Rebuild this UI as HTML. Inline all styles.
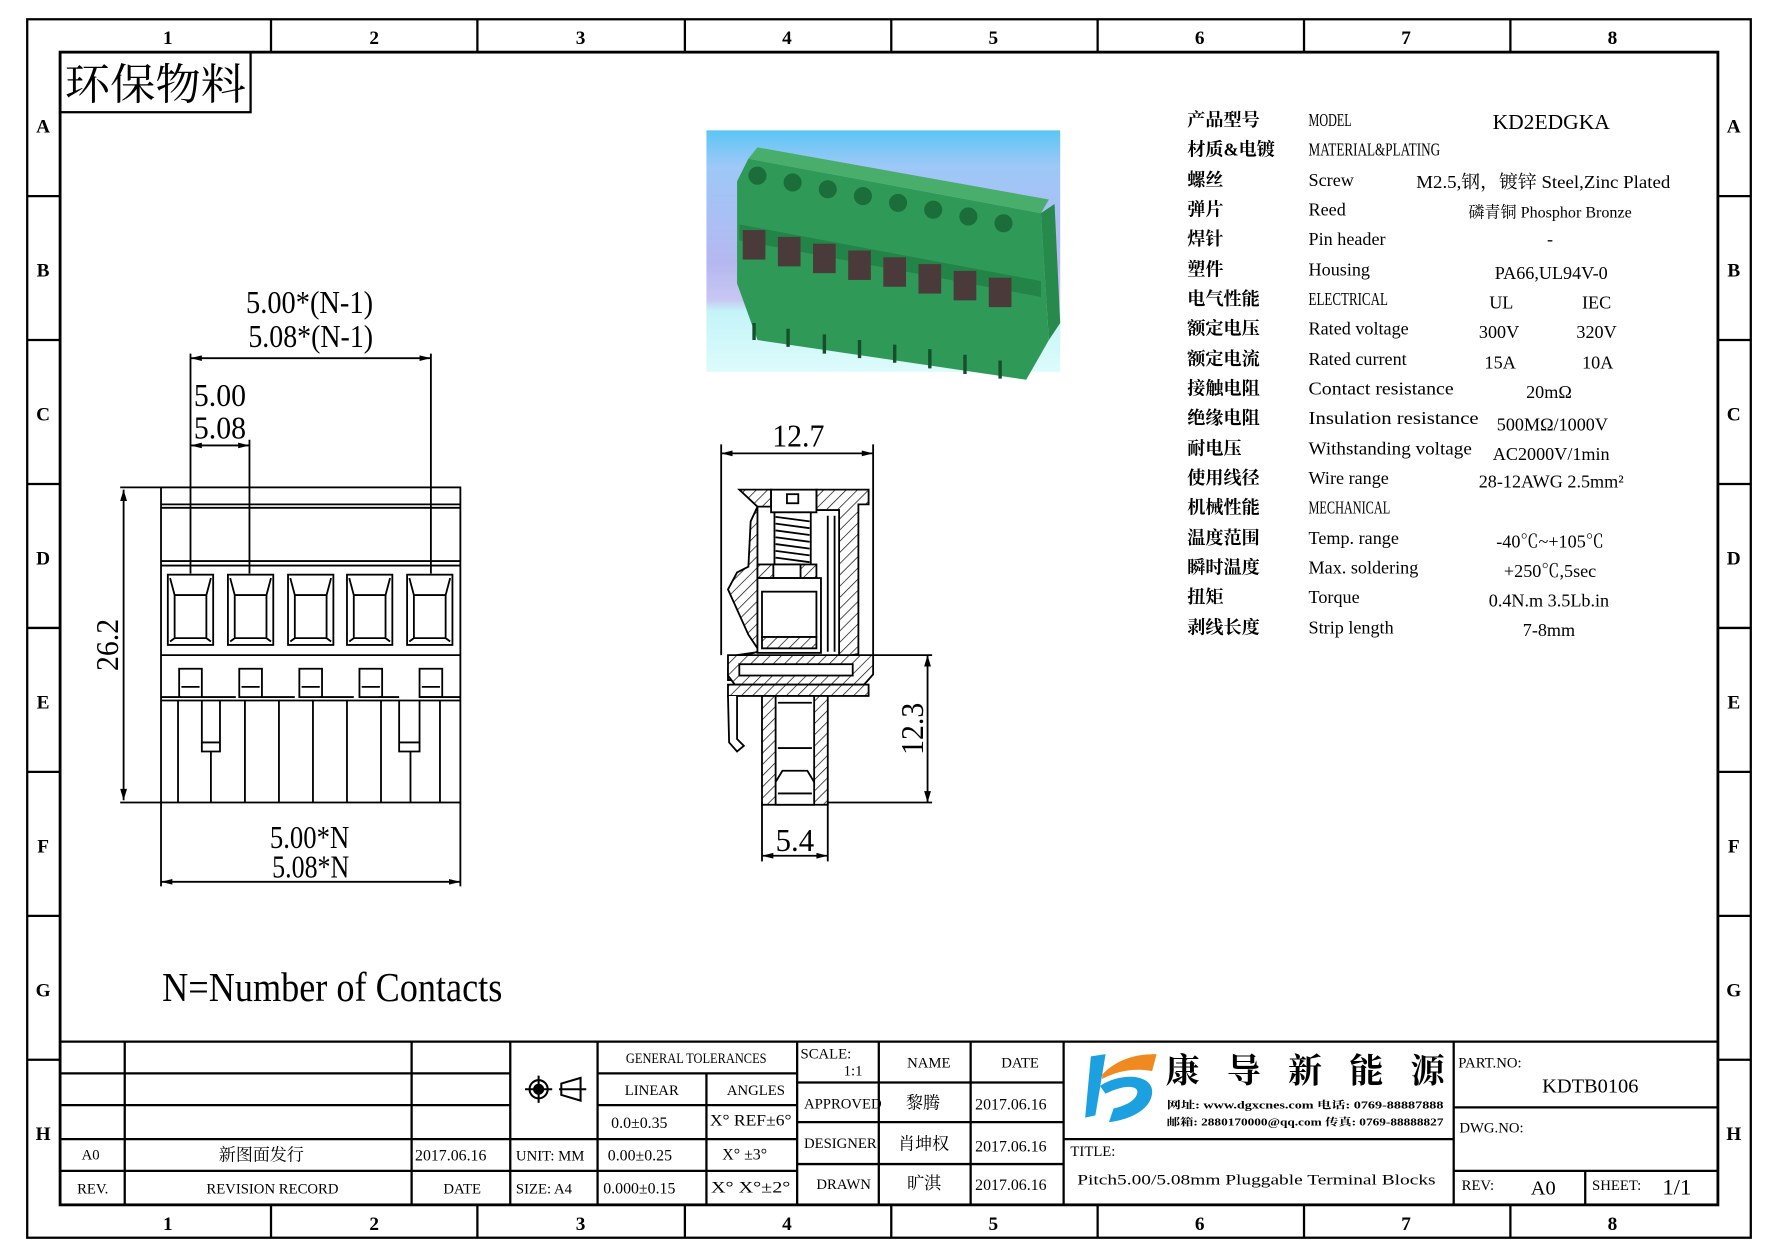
<!DOCTYPE html>
<html><head><meta charset="utf-8"><style>
html,body{margin:0;padding:0;background:#fff;}
svg{display:block;}
text{font-family:"Liberation Serif","Noto Serif CJK SC","Noto Sans CJK SC",serif;fill:#000;}
.s{font-family:"Liberation Sans","Noto Sans CJK SC",sans-serif;font-weight:bold;}
</style></head><body>
<svg width="1778" height="1257" viewBox="0 0 1568 1109" preserveAspectRatio="none" xmlns="http://www.w3.org/2000/svg">
<defs>
<pattern id="h" width="7" height="7" patternUnits="userSpaceOnUse" patternTransform="rotate(45)">
<rect width="7" height="7" fill="#fff"/><line x1="0" y1="0" x2="0" y2="7" stroke="#000" stroke-width="1.2"/></pattern>
<linearGradient id="bg" x1="0" y1="0" x2="0" y2="1">
<stop offset="0" stop-color="#5cc6f4"/><stop offset="0.15" stop-color="#9dc8f7"/><stop offset="0.55" stop-color="#b5b8f0"/><stop offset="0.7" stop-color="#c8c6f2"/><stop offset="0.75" stop-color="#c4f4f8"/><stop offset="1" stop-color="#ddfbfb"/></linearGradient>
</defs>
<rect width="1568" height="1109" fill="#fff"/>
<g fill="none" stroke="#000">
<rect x="24" y="17" width="1520" height="1075" stroke-width="2"/>
<rect x="53" y="46" width="1462" height="1017" stroke-width="2.5"/>
<path d="M239 17V46M421 17V46M604 17V46M786 17V46M968 17V46M1150 17V46M1332 17V46 M239 1063V1092M421 1063V1092M604 1063V1092M786 1063V1092M968 1063V1092M1150 1063V1092M1332 1063V1092" stroke-width="2"/>
<path d="M24 173H53M24 300H53M24 427H53M24 554H53M24 681H53M24 808H53M24 935H53 M1515 173H1544M1515 300H1544M1515 427H1544M1515 554H1544M1515 681H1544M1515 808H1544M1515 935H1544" stroke-width="2"/>
</g>
<g class="s" font-size="17" text-anchor="middle">
<text x="148" y="39">1</text><text x="330" y="39">2</text><text x="512" y="39">3</text><text x="694" y="39">4</text><text x="876" y="39">5</text><text x="1058" y="39">6</text><text x="1240" y="39">7</text><text x="1422" y="39">8</text>
<text x="148" y="1085">1</text><text x="330" y="1085">2</text><text x="512" y="1085">3</text><text x="694" y="1085">4</text><text x="876" y="1085">5</text><text x="1058" y="1085">6</text><text x="1240" y="1085">7</text><text x="1422" y="1085">8</text>
<text x="38" y="117">A</text><text x="38" y="244">B</text><text x="38" y="371">C</text><text x="38" y="498">D</text><text x="38" y="625">E</text><text x="38" y="752">F</text><text x="38" y="879">G</text><text x="38" y="1006">H</text>
<text x="1529" y="117">A</text><text x="1529" y="244">B</text><text x="1529" y="371">C</text><text x="1529" y="498">D</text><text x="1529" y="625">E</text><text x="1529" y="752">F</text><text x="1529" y="879">G</text><text x="1529" y="1006">H</text>
</g>
<rect x="53" y="46" width="168" height="53" fill="none" stroke="#000" stroke-width="2"/>
<text x="57" y="88" font-size="38" textLength="160" lengthAdjust="spacingAndGlyphs">环保物料</text>

<!-- photo -->
<rect x="623" y="115" width="312" height="213" fill="url(#bg)"/>
<g>
<polygon points="660,140 918,188 925,300 905,335 668,300 650,250 650,160" fill="#2f9a57"/>
<polygon points="660,140 668,130 925,176 918,188" fill="#49ad6c"/>
<polygon points="652,198 918,248 918,262 652,212" fill="#238447"/>
<polygon points="918,188 930,180 935,285 925,300" fill="#27894b"/>
<g fill="#4a3b3a">
<rect x="655" y="203" width="20" height="26"/><rect x="686" y="209" width="20" height="26"/><rect x="717" y="215" width="20" height="26"/><rect x="748" y="221" width="20" height="26"/><rect x="779" y="227" width="20" height="26"/><rect x="810" y="233" width="20" height="26"/><rect x="841" y="239" width="20" height="26"/><rect x="872" y="245" width="20" height="26"/>
</g>
<g fill="#1b6e3a">
<circle cx="668" cy="155" r="8"/><circle cx="699" cy="161" r="8"/><circle cx="730" cy="167" r="8"/><circle cx="761" cy="173" r="8"/><circle cx="792" cy="179" r="8"/><circle cx="823" cy="185" r="8"/><circle cx="854" cy="191" r="8"/><circle cx="885" cy="197" r="8"/>
</g>
<g stroke="#174f2c" stroke-width="3"><path d="M665 285V300M695 290V306M727 295V312M758 300V316M789 304V320M820 308V325M851 313V330M882 318V334"/></g>
</g>

<!-- left front view -->
<g fill="none" stroke="#000" stroke-width="1.6">
<rect x="142" y="430" width="264" height="278"/>
<path d="M142 445H406M142 448H406M142 495H406M142 499H406M142 578H406M142 615H160M178 615H208M230 615H260M282 615H312M334 615H352M370 615H406M142 618H406"/>
<rect x="148" y="507" width="40" height="62"/><rect x="201" y="507" width="40" height="62"/><rect x="254" y="507" width="40" height="62"/><rect x="306" y="507" width="40" height="62"/><rect x="359" y="507" width="40" height="62"/>
<path d="M150 510L154 525H182L186 510M154 525V563H182V525M150 566L154 563M186 566L182 563"/>
<path d="M203 510L207 525H235L239 510M207 525V563H235V525M203 566L207 563M239 566L235 563"/>
<path d="M256 510L260 525H288L292 510M260 525V563H288V525M256 566L260 563M292 566L288 563"/>
<path d="M308 510L312 525H340L344 510M312 525V563H340V525M308 566L312 563M344 566L340 563"/>
<path d="M361 510L365 525H393L397 510M365 525V563H393V525M361 566L365 563M397 566L393 563"/>
<rect x="158" y="590" width="20" height="25"/><rect x="211" y="590" width="20" height="25"/><rect x="264" y="590" width="20" height="25"/><rect x="317" y="590" width="20" height="25"/><rect x="370" y="590" width="20" height="25"/>
<path d="M160 606H176M213 606H229M266 606H282M319 606H335M372 606H388"/>
<path d="M178 618V663H194V618M178 655H194M352 618V663H370V618M352 655H370"/>
<path d="M157 618V708M186 663V708M216 618V708M246 618V708M276 618V708M306 618V708M336 618V708M362 663V708M388 618V708"/>
<path d="M106 430H142M106 708H142M109 432V706"/>
<path d="M168 312V506M380 312V506M168 316H380M220 388V506M168 393H220"/>
<path d="M142 708V782M406 708V782M142 778H406"/>
</g>
<g fill="#000">
<path d="M109 432l-3 10h6zM109 706l-3 -10h6z"/>
<path d="M168 316l10 -2.5v5zM380 316l-10 -2.5v5zM168 393l10 -2.5v5zM220 393l-10 -2.5v5zM142 778l10 -2.5v5zM406 778l-10 -2.5v5z"/>
</g>
<g font-size="28">
<text x="217" y="276" textLength="112" lengthAdjust="spacingAndGlyphs">5.00*(N-1)</text>
<text x="219" y="306" textLength="110" lengthAdjust="spacingAndGlyphs">5.08*(N-1)</text>
<text x="171" y="358" textLength="46" lengthAdjust="spacingAndGlyphs">5.00</text>
<text x="171" y="387" textLength="46" lengthAdjust="spacingAndGlyphs">5.08</text>
<text x="238" y="748" textLength="70" lengthAdjust="spacingAndGlyphs">5.00*N</text>
<text x="240" y="774" textLength="68" lengthAdjust="spacingAndGlyphs">5.08*N</text>
<text transform="translate(104,592) rotate(-90)" textLength="46" lengthAdjust="spacingAndGlyphs">26.2</text>
<text x="143" y="883" font-size="36" textLength="300" lengthAdjust="spacingAndGlyphs">N=Number of Contacts</text>
</g>

<!-- side section view -->
<g stroke="#000" stroke-width="1.6">
<path d="M652 432H680V447H668L662 460 660 500 650 505 642 520 660 560 670 575 650 578 642 590V600H652V580L668 575V447Z" fill="url(#h)"/>
<path d="M720 432H766V445H757V577L740 580V450H720Z" fill="url(#h)"/>
<rect x="680" y="432" width="40" height="20" fill="#fff"/>
<rect x="694" y="436" width="10" height="8" fill="#fff"/>
<rect x="683" y="452" width="32" height="56" fill="#fff"/>
<path d="M684 456L714 460M684 462L714 466M684 468L714 472M684 474L714 478M684 480L714 484M684 486L714 490M684 492L714 496M684 498L714 502" fill="none"/>
<rect x="668" y="498" width="52" height="12" fill="url(#h)"/>
<rect x="682" y="498" width="24" height="12" fill="#fff"/>
<rect x="668" y="510" width="56" height="66" fill="#fff"/>
<rect x="672" y="522" width="48" height="40" fill="#fff"/>
<rect x="672" y="562" width="48" height="10" fill="url(#h)"/>
<path d="M730 455V575M736 455V575" fill="none"/>
<path d="M642 578H770V595L762 604H648L642 596Z" fill="url(#h)"/>
<rect x="652" y="586" width="100" height="10" fill="#fff"/>
<rect x="642" y="604" width="124" height="10" fill="url(#h)"/>
<rect x="672" y="614" width="58" height="96" fill="url(#h)"/>
<rect x="684" y="614" width="34" height="96" fill="#fff"/>
<path d="M686 620H716M686 660H716M684 690L690 680H712L718 690M686 700H716" fill="none"/>
<path d="M642 614L643 655 650 663 656 658 650 652 650 614" fill="#fff"/>
</g>
<g fill="none" stroke="#000" stroke-width="1.6">
<path d="M636 392V578M770 392V578M636 400H770M770 578H822M730 708H822M818 578V708M672 708V760M730 708V760M672 755H730"/>
</g>
<g fill="#000">
<path d="M636 400l10 -2.5v5zM770 400l-10 -2.5v5zM818 578l-3 10h6zM818 708l-3 -10h6zM672 755l10 -2.5v5zM730 755l-10 -2.5v5z"/>
</g>
<g font-size="28">
<text x="681" y="394" textLength="46" lengthAdjust="spacingAndGlyphs">12.7</text>
<text x="684" y="751" textLength="34" lengthAdjust="spacingAndGlyphs">5.4</text>
<text transform="translate(814,666) rotate(-90)" textLength="46" lengthAdjust="spacingAndGlyphs">12.3</text>
</g>

<!-- spec table -->
<g font-size="16">
<g font-family="Noto Sans CJK SC, sans-serif" font-weight="bold">
<text x="1047" y="111">产品型号</text><text x="1047" y="137">材质&amp;电镀</text><text x="1047" y="164">螺丝</text><text x="1047" y="190">弹片</text><text x="1047" y="216">焊针</text><text x="1047" y="243">塑件</text><text x="1047" y="269">电气性能</text><text x="1047" y="295">额定电压</text><text x="1047" y="322">额定电流</text><text x="1047" y="348">接触电阻</text><text x="1047" y="374">绝缘电阻</text><text x="1047" y="401">耐电压</text><text x="1047" y="427">使用线径</text><text x="1047" y="453">机械性能</text><text x="1047" y="480">温度范围</text><text x="1047" y="506">瞬时温度</text><text x="1047" y="532">扭矩</text><text x="1047" y="559">剥线长度</text>
</g>
<g>
<text x="1154" y="111" textLength="38" lengthAdjust="spacingAndGlyphs">MODEL</text>
<text x="1154" y="137" textLength="116" lengthAdjust="spacingAndGlyphs">MATERIAL&amp;PLATING</text>
<text x="1154" y="164">Screw</text><text x="1154" y="190">Reed</text><text x="1154" y="216">Pin header</text><text x="1154" y="243">Housing</text>
<text x="1154" y="269" textLength="70" lengthAdjust="spacingAndGlyphs">ELECTRICAL</text>
<text x="1154" y="295">Rated voltage</text><text x="1154" y="322">Rated current</text><text x="1154" y="348" textLength="128" lengthAdjust="spacingAndGlyphs">Contact resistance</text>
<text x="1154" y="374" textLength="150" lengthAdjust="spacingAndGlyphs">Insulation resistance</text>
<text x="1154" y="401" textLength="144" lengthAdjust="spacingAndGlyphs">Withstanding voltage</text>
<text x="1154" y="427">Wire range</text>
<text x="1154" y="453" textLength="72" lengthAdjust="spacingAndGlyphs">MECHANICAL</text>
<text x="1154" y="480">Temp. range</text><text x="1154" y="506">Max. soldering</text><text x="1154" y="532">Torque</text><text x="1154" y="559">Strip length</text>
</g>
<g text-anchor="middle">
<text x="1368" y="114" font-size="19">KD2EDGKA</text>
<text x="1361" y="166" textLength="224" lengthAdjust="spacingAndGlyphs">M2.5,钢，镀锌 Steel,Zinc Plated</text>
<text x="1367" y="192" font-size="14" textLength="144" lengthAdjust="spacingAndGlyphs">磷青铜 Phosphor Bronze</text>
<text x="1367" y="216">-</text>
<text x="1368" y="246">PA66,UL94V-0</text>
<text x="1324" y="272">UL</text><text x="1408" y="272">IEC</text>
<text x="1322" y="298">300V</text><text x="1408" y="298">320V</text>
<text x="1323" y="325">15A</text><text x="1409" y="325">10A</text>
<text x="1366" y="351">20mΩ</text>
<text x="1369" y="380">500MΩ/1000V</text>
<text x="1368" y="406">AC2000V/1min</text>
<text x="1368" y="430">28-12AWG 2.5mm²</text>
<text x="1367" y="483">-40℃~+105℃</text>
<text x="1367" y="509">+250℃,5sec</text>
<text x="1366" y="535">0.4N.m 3.5Lb.in</text>
<text x="1366" y="561">7-8mm</text>
</g>
</g>

<!-- title block -->
<g fill="none" stroke="#000" stroke-width="2">
<path d="M53 919H1515"/>
<path d="M53 947H450M53 975H450M53 1005H450M53 1033H527"/>
<path d="M450 1005H703M527 947H703M527 975H703M527 1033H703"/>
<path d="M110 919V1063M363 919V1063M450 919V1063M527 919V1063M623 947V1063M703 919V1063"/>
<path d="M703 955H938M703 990H938M703 1027H938M775 919V1063M856 919V1063M938 919V1063"/>
<path d="M938 1005H1282M1282 919V1063M1282 977H1515M1282 1033H1515M1398 1033V1063"/>
</g>
<g stroke="#000" stroke-width="1.8" fill="none">
<circle cx="475" cy="961" r="8"/><circle cx="475" cy="961" r="4" fill="#000"/><path d="M463 961H487M475 949V973"/>
<path d="M493 961H517M495 956L512 951V971L495 966Z"/>
</g>
<g font-size="13">
<text x="552" y="938" textLength="124" lengthAdjust="spacingAndGlyphs">GENERAL TOLERANCES</text>
<text x="551" y="966">LINEAR</text><text x="641" y="966">ANGLES</text>
<text x="539" y="995" font-size="14">0.0±0.35</text><text x="626" y="993" font-size="14" textLength="72" lengthAdjust="spacingAndGlyphs">X° REF±6°</text>
<text x="536" y="1024" font-size="14">0.00±0.25</text><text x="637" y="1023" font-size="14">X° ±3°</text>
<text x="532" y="1053" font-size="14">0.000±0.15</text><text x="627" y="1052" font-size="14" textLength="70" lengthAdjust="spacingAndGlyphs">X° X°±2°</text>
<text x="455" y="1024">UNIT: MM</text><text x="455" y="1053">SIZE: A4</text>
<text x="72" y="1023">A0</text><text x="68" y="1053">REV.</text>
<text x="182" y="1053">REVISION RECORD</text><text x="391" y="1053">DATE</text>
<text x="193" y="1024" font-size="15">新图面发行</text>
<text x="366" y="1024" font-size="14">2017.06.16</text>
<text x="706" y="934">SCALE:</text><text x="744" y="949">1:1</text>
<text x="800" y="942">NAME</text><text x="883" y="942">DATE</text>
<text x="709" y="978">APPROVED</text><text x="709" y="1013">DESIGNER</text><text x="720" y="1049">DRAWN</text>
<text x="799" y="978" font-size="15">黎腾</text><text x="792" y="1014" font-size="15">肖坤权</text><text x="800" y="1049" font-size="15">旷淇</text>
<text x="860" y="979" font-size="14">2017.06.16</text><text x="860" y="1016" font-size="14">2017.06.16</text><text x="860" y="1050" font-size="14">2017.06.16</text>
<text x="944" y="1020">TITLE:</text>
<text x="950" y="1045" textLength="316" lengthAdjust="spacingAndGlyphs">Pitch5.00/5.08mm Pluggable Terminal Blocks</text>
<text x="1286" y="942">PART.NO:</text>
<text x="1360" y="964" font-size="18">KDTB0106</text>
<text x="1287" y="999">DWG.NO:</text>
<text x="1289" y="1050">REV:</text><text x="1350" y="1054" font-size="18">A0</text>
<text x="1404" y="1050">SHEET:</text><text x="1466" y="1054" font-size="20">1/1</text>
</g>
<path d="M962 932L975 930 966 984 957 986Z" fill="#1da0e0"/>
<path d="M970 958C990 945 1018 948 1016 965 1014 980 995 988 978 990L982 978C995 975 1002 970 1003 964 1004 957 990 957 975 965Z" fill="#1da0e0"/>
<path d="M972 948C985 935 1000 930 1020 930L1016 945C1000 942 985 945 972 952Z" fill="#f08a20"/>
<g font-family="Noto Sans CJK SC, sans-serif" font-weight="bold" font-size="30">
<text x="1028" y="955">康</text><text x="1082" y="955">导</text><text x="1136" y="955">新</text><text x="1190" y="955">能</text><text x="1244" y="955">源</text>
</g>
<g font-size="9" font-weight="bold" font-family="Liberation Sans, Noto Sans CJK SC, sans-serif">
<text x="1029" y="978" textLength="244" lengthAdjust="spacingAndGlyphs">网址: www.dgxcnes.com    电话: 0769-88887888</text>
<text x="1029" y="993" textLength="244" lengthAdjust="spacingAndGlyphs">邮箱: 2880170000@qq.com 传真: 0769-88888827</text>
</g>
</svg>
</body></html>
